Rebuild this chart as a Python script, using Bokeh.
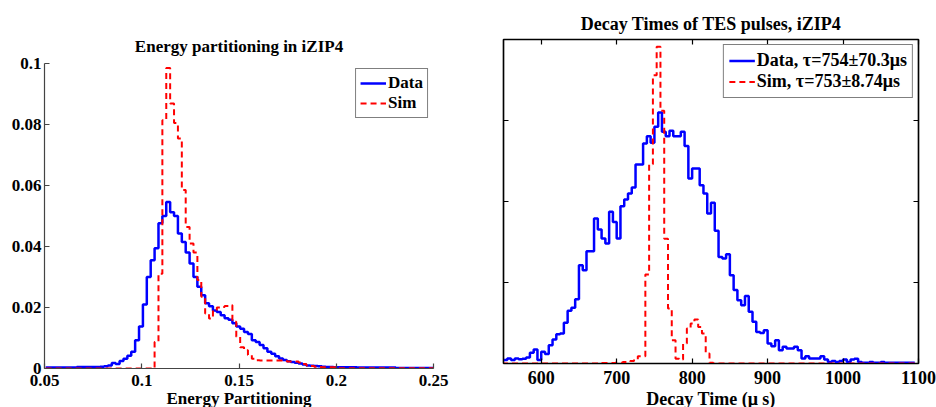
import numpy as np
from bokeh.plotting import figure
from bokeh.models import (FixedTicker, CustomJSTickFormatter, Legend, LegendItem,
                          LinearAxis, Range1d)
from bokeh.embed import file_html
from bokeh.resources import INLINE

# ---------------- Left panel: energy partitioning histogram ----------------
ep_bin_start = 0.0506
ep_bin_width = 0.002
ep_data = [0.0003, 0.0003, 0.0003, 0.0003, 0.0003, 0.0003, 0.0003, 0.0003,
           0.0005, 0.0005, 0.0005, 0.0005, 0.0005, 0.0005,
           0.0006, 0.0007, 0.0010, 0.0018, 0.0015, 0.0025, 0.0032, 0.0042, 0.0055, 0.0093,
           0.0138, 0.0210, 0.0300, 0.0355, 0.0394, 0.0476, 0.0500, 0.0546, 0.0512, 0.0500,
           0.0443, 0.0415, 0.0380, 0.0344, 0.0300, 0.0268, 0.0240, 0.0214, 0.0204, 0.0190,
           0.0185, 0.0175, 0.0165, 0.0160, 0.0148, 0.0138, 0.0130, 0.0120, 0.0113, 0.0093,
           0.0087, 0.0077, 0.0066, 0.0055, 0.0048, 0.0040, 0.0033, 0.0028, 0.0024, 0.0021,
           0.0019, 0.0016, 0.0013, 0.0010, 0.0009, 0.0008, 0.0007, 0.0006, 0.0005, 0.0005,
           0.0004, 0.0004, 0.0004, 0.0004, 0.0004, 0.0004,
           0.0003, 0.0003, 0.0003, 0.0003, 0.0003, 0.0003, 0.0003, 0.0003, 0.0003, 0.0003,
           0.0002, 0.0002, 0.0002, 0.0002, 0.0002, 0.0002, 0.0002, 0.0002, 0.0002, 0.0002]
ep_sim = [0, 0, 0, 0, 0, 0, 0, 0, 0, 0, 0, 0, 0, 0, 0, 0, 0, 0, 0, 0, 0, 0, 0, 0, 0, 0, 0, 0,
          0.0087, 0.0311, 0.0814, 0.0985, 0.0869, 0.0805, 0.0754, 0.0585, 0.0464, 0.0410,
          0.0380, 0.0290, 0.0235, 0.0180, 0.0164, 0.0190, 0.0200, 0.0202, 0.0205, 0.0207,
          0.0153, 0.0104, 0.0070, 0.0060, 0.0044, 0.0032, 0.0027,
          0.0026, 0.0026, 0.0026, 0.0026, 0.0026, 0.0026, 0.0026,
          0.0023, 0.0023, 0.0023, 0.0020, 0.0015, 0.0010, 0.0008, 0.0006, 0.0005,
          0.0004, 0.0004, 0.0004, 0.0004,
          0.0001, 0.0001, 0.0001, 0.0001, 0.0001, 0.0001, 0.0001, 0.0001, 0.0001, 0.0001,
          0.0001, 0.0001, 0.0001, 0.0001, 0.0001, 0.0001, 0.0001, 0.0001, 0.0001, 0.0001,
          0.0001, 0.0001, 0.0001, 0.0001, 0.0001]
ep_xticks = [0.05, 0.1, 0.15, 0.2, 0.25]
ep_yticks = [0, 0.02, 0.04, 0.06, 0.08, 0.1]

# ---------------- Right panel: decay time histogram ----------------
dt_data_start = 550.0
dt_sim_start = 548.0
dt_bin_width = 5.0
dt_data = [2.1, 3.1, 2.1, 3.1, 2.7, 2.9, 3.7, 6.6, 8.6, 2.1,
           7.2, 5.8, 11.3, 14.8, 18.1, 18.5, 25.1, 32.5, 34.4, 39.7,
           60.7, 57.6, 69.3, 69.3, 89.5, 82.7, 77.2, 74.0, 93.6, 87.4,
           77.2, 97.1, 101.2, 104.9, 108.6, 122.8, 122.8, 135.8, 140.3, 136.2,
           146.1, 154.9, 143.0, 140.3, 143.6, 140.3, 140.3, 143.0, 134.2, 114.2,
           120.4, 120.4, 110.0, 104.9, 92.6, 99.2, 81.9, 65.8, 64.8, 67.5,
           54.5, 45.3, 39.1, 36.0, 41.6, 31.9, 25.7, 19.5, 18.9, 20.6,
           12.3, 10.7, 14.4, 8.2, 10.3, 9.3, 9.3, 10.3, 8.2, 3.1,
           4.5, 3.1, 3.1, 3.1, 4.5, 2.5, 1.0, 1.6, 1.0, 1.6,
           2.5, 1.0, 2.5, 3.0, 1.0, 0.4, 0.4, 1.0, 0.4, 0.4,
           1.0, 0.4, 0.4, 0.4, 0.4, 0.4, 0.4, 0.4, 0.4]
dt_sim = [0, 0, 0, 0, 0, 0, 0, 0, 0, 0, 0, 0, 0, 0, 0, 0, 0, 0, 0, 0, 0, 0, 0, 0, 0, 0,
          0.3, 0.3, 0.3, 0.3, 0.5, 0.5, 1.0, 1.0, 1.5, 2.5, 4.5, 4.5,
          55.0, 123.0, 178.0, 195.5, 156.0, 77.0, 34.0, 14.4, 3.0, 2.5,
          12.3, 21.6, 24.7, 27.2, 22.6, 18.5, 6.2, 0.5,
          0, 0, 0, 0, 0, 0, 0, 0, 0, 0, 0, 0, 0, 0, 0, 0, 0, 0, 0, 0, 0, 0, 0, 0, 0, 0, 0,
          0, 0, 0, 0, 0, 0, 0, 0, 0, 0, 0, 0, 0, 0, 0, 0, 0, 0, 0, 0, 0, 0, 0, 0, 0, 0, 0]
dt_xticks = [600, 700, 800, 900, 1000, 1100]
dt_yticks = [0, 50, 100, 150, 200]

legend_left = ["Data", "Sim"]
legend_right = ["Data, \u03c4=754\u00b170.3\u03bcs", "Sim, \u03c4=753\u00b18.74\u03bcs"]

FONT = "Liberation Serif"
BLUE = "#0000ff"
RED = "#ff0000"


def stairs(start, width, vals):
    vals = np.asarray(vals, dtype=float)
    edges = start + width * np.arange(len(vals) + 1)
    return edges, np.append(vals, vals[-1])


def style_axis(ax, size, color="black"):
    ax.major_tick_in = 5
    ax.major_tick_out = 0
    ax.minor_tick_line_color = None
    ax.axis_line_color = color
    ax.axis_line_width = 1.2
    ax.major_tick_line_color = color
    ax.major_tick_line_width = 1.2
    ax.major_label_text_font = FONT
    ax.major_label_text_font_style = "bold"
    ax.major_label_text_font_size = size
    ax.major_label_text_color = "black"
    ax.axis_label_text_font = FONT
    ax.axis_label_text_font_style = "bold"
    ax.axis_label_text_font_size = size
    ax.axis_label_text_color = "black"


fmt = CustomJSTickFormatter(code="return String(tick);")
blank = CustomJSTickFormatter(code="return '';")

# ---------------- Left figure ----------------
p1 = figure(frame_width=389, frame_height=305, output_backend="svg", toolbar_location=None,
            x_range=Range1d(0.05, 0.25), y_range=Range1d(0, 0.1),
            min_border_left=44, min_border_right=33, min_border_top=63, min_border_bottom=39)
p1.outline_line_color = None
p1.grid.grid_line_color = None
p1.title.text = "Energy partitioning in iZIP4"
p1.title.text_font = FONT
p1.title.text_font_style = "bold"
p1.title.text_font_size = "17px"
p1.title.text_color = "black"
p1.title.align = "center"
p1.title.standoff = 15

x, y = stairs(ep_bin_start, ep_bin_width, ep_data)
r1 = p1.step(x, y, mode="after", line_color=BLUE, line_width=2.5)
x, y = stairs(ep_bin_start, ep_bin_width, ep_sim)
r2 = p1.step(x, y, mode="after", line_color=RED, line_width=2, line_dash="6 4")

p1.xaxis.ticker = FixedTicker(ticks=ep_xticks)
p1.yaxis.ticker = FixedTicker(ticks=ep_yticks)
p1.xaxis.formatter = fmt
p1.yaxis.formatter = fmt
for ax in p1.xaxis + p1.yaxis:
    style_axis(ax, "17px", color="#444444")
p1.xaxis.axis_label = "Energy Partitioning"
p1.xaxis.major_label_standoff = 6
p1.xaxis.axis_label_standoff = 0
p1.yaxis.major_label_standoff = 3

leg1 = Legend(items=[LegendItem(label=legend_left[0], renderers=[r1]),
                     LegendItem(label=legend_left[1], renderers=[r2])],
              location="top_right")
leg1.margin = 5
leg1.padding = 4
leg1.spacing = 0
leg1.label_height = 18
leg1.glyph_height = 18
leg1.glyph_width = 26
leg1.label_standoff = 2
leg1.border_line_color = "black"
leg1.border_line_width = 1.5
leg1.label_text_font = FONT
leg1.label_text_font_style = "bold"
leg1.label_text_font_size = "17px"
leg1.label_text_color = "black"
p1.add_layout(leg1)

# ---------------- Right figure ----------------
p2 = figure(frame_width=415, frame_height=324, output_backend="svg", toolbar_location=None,
            x_range=Range1d(550, 1100), y_range=Range1d(0, 200),
            min_border_left=37, min_border_right=18, min_border_top=39, min_border_bottom=44)
p2.outline_line_color = "black"
p2.outline_line_width = 1.5
p2.grid.grid_line_color = None
p2.title.text = "Decay Times of TES pulses, iZIP4"
p2.title.text_font = FONT
p2.title.text_font_style = "bold"
p2.title.text_font_size = "18px"
p2.title.text_color = "black"
p2.title.align = "center"
p2.title.standoff = 12

x, y = stairs(dt_data_start, dt_bin_width, dt_data)
r3 = p2.step(x, y, mode="after", line_color=BLUE, line_width=2.5)
x, y = stairs(dt_sim_start, dt_bin_width, dt_sim)
r4 = p2.step(x, y, mode="after", line_color=RED, line_width=2, line_dash="6 4")

p2.xaxis.ticker = FixedTicker(ticks=dt_xticks)
p2.yaxis.ticker = FixedTicker(ticks=dt_yticks)
p2.xaxis.formatter = fmt
p2.yaxis.formatter = blank
for ax in p2.xaxis + p2.yaxis:
    style_axis(ax, "18px")
p2.xaxis.axis_label = "Decay Time (\u03bc s)"
p2.xaxis.major_label_standoff = 7
p2.xaxis.axis_label_standoff = 2
p2.yaxis.major_label_standoff = 0

top_ax = LinearAxis(ticker=FixedTicker(ticks=dt_xticks), formatter=blank)
right_ax = LinearAxis(ticker=FixedTicker(ticks=dt_yticks), formatter=blank)
for ax in (top_ax, right_ax):
    style_axis(ax, "1px")
    ax.major_label_standoff = 0
p2.add_layout(top_ax, "above")
p2.add_layout(right_ax, "right")

leg2 = Legend(items=[LegendItem(label=legend_right[0], renderers=[r3]),
                     LegendItem(label=legend_right[1], renderers=[r4])],
              location="top_right")
leg2.margin = 5
leg2.padding = 5
leg2.spacing = 0
leg2.label_height = 21
leg2.glyph_height = 21
leg2.glyph_width = 26
leg2.label_standoff = 2
leg2.border_line_color = "black"
leg2.border_line_width = 1.5
leg2.label_text_font = FONT
leg2.label_text_font_style = "bold"
leg2.label_text_font_size = "18px"
leg2.label_text_color = "black"
p2.add_layout(leg2)

# Two independent roots placed side by side (avoids frame alignment of a row layout)
html = file_html([p1, p2], INLINE)
css = ("<style>html, body { overflow: hidden; } "
       "body { display: flex !important; flex-direction: row; align-items: flex-start; }</style>")
html = html.replace("</head>", css + "</head>", 1)
open("out.html", "w").write(html)
